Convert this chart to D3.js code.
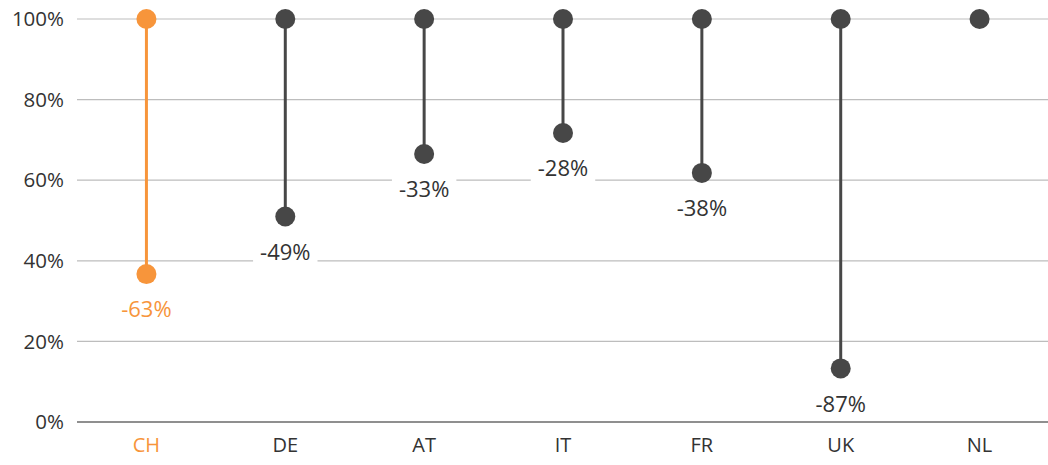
<!DOCTYPE html>
<html><head><meta charset="utf-8">
<script src="https://cdn.jsdelivr.net/npm/d3@7"></script>
<style>body{margin:0;background:#fff;} text{font-family:"Open Sans","Noto Sans",sans-serif;}</style>
</head><body>
<svg id="c" width="1048" height="465"></svg>
<script>
const categories = ["CH","DE","AT","IT","FR","UK","NL"];
const startValues = [100,100,100,100,100,100,100];
const endValues = [36.7,51,66.5,71.7,61.8,13.3,100];
const changeLabels = ["-63%","-49%","-33%","-28%","-38%","-87%",null];
const yTicks = [0,20,40,60,80,100];
const highlight = "CH";

const orange = "#f7953b", dark = "#474747";
const svg = d3.select("#c");
const x = d3.scaleBand().domain(categories).range([77,1049]);
const y = d3.scaleLinear().domain([0,100]).range([422,19]);
const col = c => c===highlight ? orange : dark;

// gridlines
svg.append("g").selectAll("line").data(yTicks).join("line")
  .attr("x1",77).attr("x2",1048)
  .attr("y1",d=>y(d)).attr("y2",d=>y(d))
  .attr("stroke",d=>d===0?"#6a6a6a":"#bdbdbd").attr("stroke-width",d=>d===0?1.5:1.2);

// y labels
svg.append("g").selectAll("text").data(yTicks).join("text")
  .attr("x",64).attr("y",d=>y(d)).attr("dy","0.35em").attr("text-anchor","end")
  .attr("font-size",20.5).attr("fill","#333").text(d=>d+"%");

// x labels
svg.append("g").selectAll("text").data(categories).join("text")
  .attr("x",d=>x(d)+x.bandwidth()/2).attr("y",452).attr("text-anchor","middle")
  .attr("font-size",20).attr("fill",d=>d===highlight?orange:"#333").text(d=>d);

const data = categories.map((c,i)=>({c,s:startValues[i],e:endValues[i],l:changeLabels[i]}));
const g = svg.append("g");
g.selectAll("line.stem").data(data.filter(d=>d.e!==d.s)).join("line")
  .attr("x1",d=>x(d.c)+x.bandwidth()/2).attr("x2",d=>x(d.c)+x.bandwidth()/2)
  .attr("y1",d=>y(d.s)).attr("y2",d=>y(d.e))
  .attr("stroke",d=>col(d.c)).attr("stroke-width",3);
g.selectAll("circle.s").data(data).join("circle")
  .attr("cx",d=>x(d.c)+x.bandwidth()/2).attr("cy",d=>y(d.s)).attr("r",10).attr("fill",d=>col(d.c));
g.selectAll("circle.e").data(data.filter(d=>d.e!==d.s)).join("circle")
  .attr("cx",d=>x(d.c)+x.bandwidth()/2).attr("cy",d=>y(d.e)).attr("r",10).attr("fill",d=>col(d.c));

// labels with white background
const lab = g.selectAll("g.lab").data(data.filter(d=>d.l)).join("g")
  .attr("transform",d=>`translate(${x(d.c)+x.bandwidth()/2},${y(d.e)+35.5})`);
lab.append("rect").attr("fill","#fff");
lab.append("text").attr("text-anchor","middle").attr("dy","0.35em")
  .attr("font-size",22).attr("fill",d=>d.c===highlight?orange:"#333").text(d=>d.l);
lab.each(function(){
  const t = d3.select(this).select("text").node().getBBox();
  d3.select(this).select("rect").attr("x",t.x-7).attr("y",t.y-2).attr("width",t.width+14).attr("height",t.height+4);
});
</script>
</body></html>
